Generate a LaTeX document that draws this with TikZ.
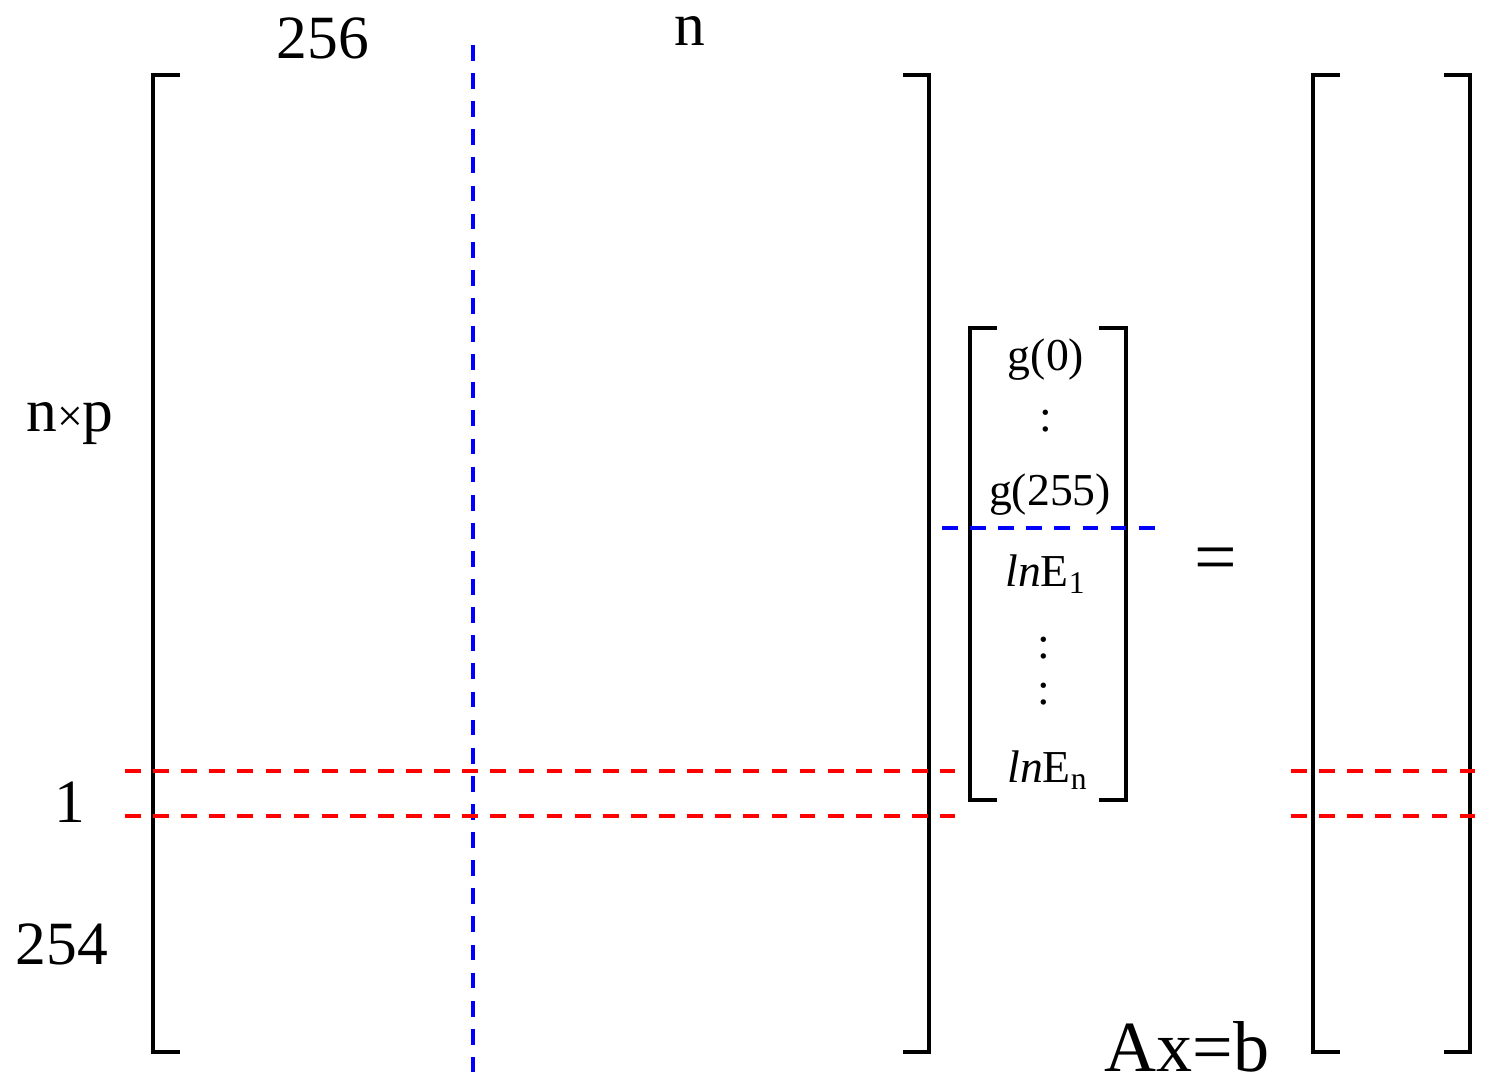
\documentclass[tikz,border=0pt]{standalone}
\usepackage{fontspec}
\setmainfont{Liberation Serif}
\usetikzlibrary{positioning}
\definecolor{cutred}{RGB}{255,0,0}
\definecolor{cutblue}{RGB}{0,0,255}
\newcommand{\fsz}[1]{\fontsize{#1}{#1}\selectfont}
\newcommand{\lnE}[1]{\textit{ln}E\raisebox{-0.35ex}{\fsz{18}#1}}

\begin{document}
\begin{tikzpicture}[x=0.02cm, y=-0.02cm,
      brk/.style={draw=black, line width=2.3pt},
      rowcut/.style={draw=cutred, line width=2pt, dash pattern=on 9pt off 7pt},
      colcut/.style={draw=cutblue, line width=2pt, dash pattern=on 9pt off 7pt},
      lbl/.style={inner sep=0pt, font=\fsz{35}},
      entry/.style={inner sep=0pt, font=\fsz{26}}
    ]
    \useasboundingbox (0,0) rectangle (1488,1086);
    % big matrix A
    \draw[brk] (180,75) -- (153,75) -- (153,1052) -- (180,1052);
    \draw[brk] (903,75) -- (929,75) -- (929,1052) -- (903,1052);
    % unknowns x
    \draw[brk] (997,328) -- (970,328) -- (970,800) -- (997,800);
    \draw[brk] (1099,328) -- (1126,328) -- (1126,800) -- (1099,800);
    % right side b
    \draw[brk] (1340,75) -- (1313,75) -- (1313,1052) -- (1340,1052);
    \draw[brk] (1444,75) -- (1470,75) -- (1470,1052) -- (1444,1052);
    % cuts
    \draw[colcut] (473,45) -- (473,1072);
    \draw[colcut] (942,528) -- (1158,528);
    \foreach \yy in {771,816} {
      \draw[rowcut] (125,\yy) -- (955,\yy);
      \draw[rowcut] (1291,\yy) -- (1500,\yy);
    }
    % labels
    \node[lbl] (cols) at (323,38) {256};
    \node[lbl] (ncol) at (690,31) {n};
    \node[lbl] (rows) at (70,424) {n{\fsz{26}×}p};
    \node[lbl] (one) at (70,802) {1};
    \node[lbl] (last) at (62,944) {254};
    \node[entry] (g0) at (1046,360) {g(0)};
    \node[entry] (gd) at (1046,421) {:};
    \node[entry] (g255) at (1050,495) {g(255)};
    \node[entry] (e1) at (1045,574) {\lnE{1}};
    \node[entry] (ed1) at (1044,648) {:};
    \node[entry] (ed2) at (1044,694) {:};
    \node[entry] (en) at (1047,770) {\lnE{n}};
    \node[inner sep=0pt, font=\fsz{43}] (eq) at (1216,565) {=};
    \node[inner sep=0pt, font=\fsz{41}] (sys) at (1187,1047) {Ax=b};
  \end{tikzpicture}
\end{document}
